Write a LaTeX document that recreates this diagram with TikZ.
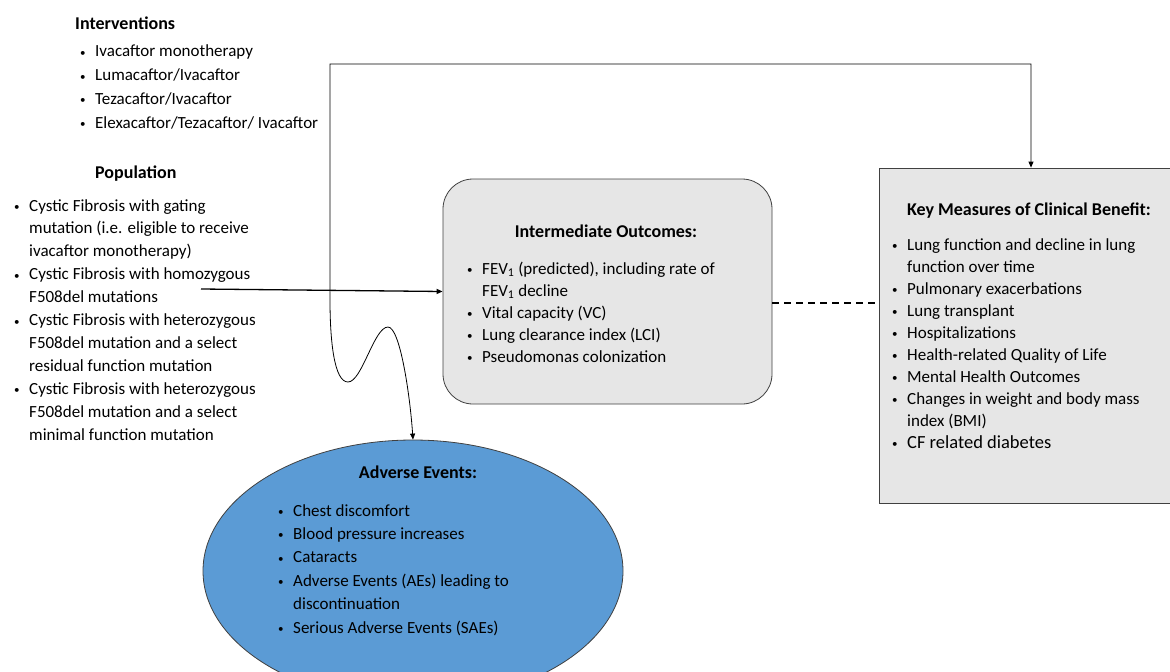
\documentclass[tikz,border=0pt]{standalone}
\usepackage{fontspec}
\setmainfont{Carlito}
\usepackage{tikz}
\usetikzlibrary{arrows.meta, shapes.geometric}
\definecolor{my_darkgray}{HTML}{404040}
\definecolor{my_boxgray}{HTML}{E6E6E6}
\definecolor{my_blue}{HTML}{5B9BD5}
\newcommand{\itm}{\makebox[16pt][l]{\hspace*{1pt}\raisebox{0.5pt}{\fontsize{11}{11}\selectfont\textbullet}}}
\newcommand{\cnt}{\hspace*{16pt}}

\begin{document}
\begin{tikzpicture}[
    x=1pt, y=-1pt,
    ttl/.style={font=\fontsize{18}{21}\selectfont\bfseries, inner sep=0pt},
    lst/.style={align=left, inner sep=0pt, anchor=base west},
    link/.style={draw=black, line width=0.8pt, -{Triangle[length=6pt, width=5pt]}}
]
\useasboundingbox (0,0) rectangle (1170,672);

% ================================================================
% LINKS: Interventionen und Population
% (Listen-Knoten: Basislinie der letzten Zeile)
% ================================================================
\node[ttl, anchor=base west] (ttl_int) at (75, 29) {Interventions};
\node[lst, font=\fontsize{17}{23.7}\selectfont] (lst_int) at (79, 128)
    {\itm Ivacaftor monotherapy\\
     \itm Lumacaftor/Ivacaftor\\
     \itm Tezacaftor/Ivacaftor\\
     \itm Elexacaftor/Tezacaftor/ Ivacaftor};

\node[ttl, anchor=base west] (ttl_pop) at (95, 178) {Population};
\node[lst, font=\fontsize{17}{22.9}\selectfont] (lst_pop) at (13, 440)
    {\itm Cystic Fibrosis with gating\\
     \cnt mutation (i.e. eligible to receive\\
     \cnt ivacaftor monotherapy)\\
     \itm Cystic Fibrosis with homozygous\\
     \cnt F508del mutations\\
     \itm Cystic Fibrosis with heterozygous\\
     \cnt F508del mutation and a select\\
     \cnt residual function mutation\\
     \itm Cystic Fibrosis with heterozygous\\
     \cnt F508del mutation and a select\\
     \cnt minimal function mutation};

% ================================================================
% MITTE: Zwischenergebnisse
% ================================================================
\node[draw=my_darkgray, fill=my_boxgray, line width=0.8pt, rounded corners=30pt,
      minimum width=329, minimum height=225] (box_io) at (607.5, 291.5) {};
\node[ttl, anchor=base] (ttl_io) at (606, 237) {Intermediate Outcomes:};
\node[lst, font=\fontsize{17}{22}\selectfont] (lst_io) at (466, 362)
    {\itm FEV\textsubscript{1} (predicted), including rate of\\
     \cnt FEV\textsubscript{1} decline\\
     \itm Vital capacity (VC)\\
     \itm Lung clearance index (LCI)\\
     \itm Pseudomonas colonization};

% ================================================================
% RECHTS: Klinischer Nutzen
% ================================================================
\node[draw=my_darkgray, fill=my_boxgray, line width=0.8pt,
      minimum width=304, minimum height=335] (box_key) at (1031, 335.5) {};
\node[ttl, anchor=base west] (ttl_key) at (907, 215) {Key Measures of Clinical Benefit:};
\node[lst, font=\fontsize{17}{22}\selectfont] (lst_key) at (891, 448)
    {\itm Lung function and decline in lung\\
     \cnt function over time\\
     \itm Pulmonary exacerbations\\
     \itm Lung transplant\\
     \itm Hospitalizations\\
     \itm Health-related Quality of Life\\
     \itm Mental Health Outcomes\\
     \itm Changes in weight and body mass\\
     \cnt index (BMI)\\
     \itm {\fontsize{18.5}{22}\selectfont CF related diabetes}};

% ================================================================
% UNTEN: Unerwuenschte Ereignisse
% ================================================================
\node[ellipse, draw=my_darkgray, fill=my_blue, line width=0.8pt, inner sep=0pt,
      minimum width=420, minimum height=262] (ell_ae) at (413, 571) {};
\node[ttl, anchor=base] (ttl_ae) at (418, 478) {Adverse Events:};
\node[lst, font=\fontsize{17}{23.4}\selectfont] (lst_ae) at (277, 633)
    {\itm Chest discomfort\\
     \itm Blood pressure increases\\
     \itm Cataracts\\
     \itm Adverse Events (AEs) leading to\\
     \cnt discontinuation\\
     \itm Serious Adverse Events (SAEs)};

% ================================================================
% Verbindungen
% ================================================================
\coordinate (pop_out) at (201, 289);
\coordinate (wave_top) at (330, 64);
\coordinate (wave_in) at (330, 300);

\draw[link, line width=1.3pt] (pop_out) -- (box_io.west);
\draw[black, line width=1.3pt, dashed, dash pattern=on 7pt off 5pt]
    ([yshift=-11.5pt]box_io.east) -- ([yshift=-11.5pt]box_io.east -| box_key.west);
\draw[link, {Triangle[length=6pt, width=5pt]}-{Triangle[length=6pt, width=5pt]}]
    (ell_ae.north) .. controls (410, 395) and (400, 327) .. (388, 327)
    .. controls (374, 327) and (362, 382) .. (348, 382)
    .. controls (334, 382) and (330, 340) .. (wave_in)
    -- (wave_top) -| (box_key.north);

\end{tikzpicture}
\end{document}
